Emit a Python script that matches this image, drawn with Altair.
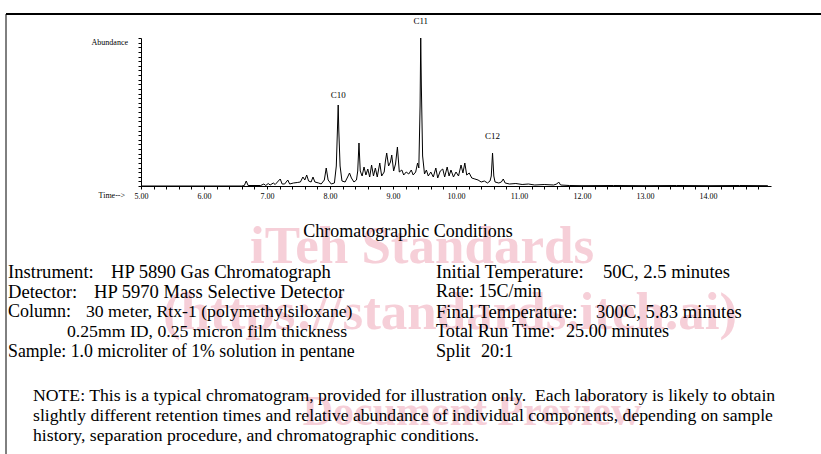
import altair as alt
import pandas as pd

# ---- chromatogram trace (retention time in minutes, abundance in arbitrary units) ----
times = [5.00, 6.60, 6.64, 6.67, 6.70, 6.90, 6.95, 6.98, 7.02, 7.05, 7.10, 7.13, 7.18, 7.21,
         7.24, 7.28, 7.33, 7.36, 7.42, 7.48, 7.53, 7.57, 7.60, 7.63, 7.66, 7.70, 7.73, 7.76,
         7.82, 7.86, 7.91, 7.94, 7.97, 8.02, 8.07, 8.10, 8.12, 8.13, 8.14, 8.16, 8.19, 8.24,
         8.28, 8.31, 8.34, 8.38, 8.42, 8.44, 8.46, 8.48, 8.51, 8.54, 8.57, 8.60, 8.63, 8.66,
         8.69, 8.72, 8.75, 8.79, 8.82, 8.86, 8.88, 8.90, 8.93, 8.96, 8.98, 9.01, 9.04, 9.07,
         9.10, 9.14, 9.17, 9.21, 9.25, 9.29, 9.32, 9.36, 9.39, 9.41, 9.43, 9.44, 9.45, 9.47,
         9.50, 9.53, 9.56, 9.60, 9.64, 9.68, 9.71, 9.75, 9.79, 9.82, 9.86, 9.89, 9.92, 9.96,
         10.00, 10.04, 10.08, 10.11, 10.14, 10.17, 10.21, 10.25, 10.30, 10.35, 10.40, 10.45,
         10.50, 10.54, 10.56, 10.58, 10.60, 10.62, 10.68, 10.72, 10.75, 10.78, 10.85, 10.95,
         11.05, 11.15, 11.25, 11.40, 11.55, 11.60, 11.63, 11.66, 11.80, 12.00, 12.50, 13.00,
         13.50, 14.00, 14.50, 14.95]
abundance = [0, 0, 0.5, 5, 0.5, 0.5, 2, 0.5, 2.5, 1, 3, 1.5, 5, 7,
             2, 2, 6, 2, 3, 3.5, 4, 9, 6, 11, 5, 4, 9, 4,
             3, 2, 6, 18, 6, 2, 3, 20, 60, 81, 55, 20, 5, 4,
             9, 13, 8, 4, 6, 15, 43, 15, 10, 19, 11, 17, 9, 21,
             10, 18, 9, 23, 10, 14, 25, 33, 20, 24, 31, 15, 22, 39,
             14, 16, 11, 14, 12, 16, 11, 14, 23, 18, 80, 148, 100, 30,
             12, 16, 10, 14, 9, 18, 8, 15, 17, 9, 19, 10, 16, 9,
             14, 10, 21, 13, 23, 11, 13, 8, 7, 6, 4, 5,
             3, 5, 10, 33, 10, 4, 3, 4, 7, 3, 2, 2.5,
             1.5, 2, 1, 1.5, 1, 2, 4, 1, 0.5, 0.3, 0.5, 0.3,
             0.5, 0.3, 0.5, 0.3]

x_ticks = [5.0, 5.2, 5.4, 5.6, 5.8, 6.0, 6.2, 6.4, 6.6, 6.8, 7.0, 7.2, 7.4, 7.6, 7.8,
           8.0, 8.2, 8.4, 8.6, 8.8, 9.0, 9.2, 9.4, 9.6, 9.8, 10.0, 10.2, 10.4, 10.6, 10.8,
           11.0, 11.2, 11.4, 11.6, 11.8, 12.0, 12.2, 12.4, 12.6, 12.8, 13.0, 13.2, 13.4,
           13.6, 13.8, 14.0, 14.2, 14.4, 14.6, 14.8]
y_ticks = [0, 4.6, 9.3, 13.9, 18.5, 23.1, 27.8, 32.4, 37, 41.6, 46.3, 50.9, 55.5, 60.1,
           64.8, 69.4, 74, 78.6, 83.3, 87.9, 92.5, 97.1, 101.8, 106.4, 111, 115.6, 120.3,
           124.9, 129.5, 134.1, 138.8, 143.4, 148]

peak_names = ["C10", "C11", "C12"]
peak_times = [8.13, 9.44, 10.58]
peak_label_height = [91, 165, 50]

title_text = "Chromatographic Conditions"
left_keys = ["Instrument:", "Detector:", "Column:", "", "Sample: 1.0 microliter of 1% solution in pentane"]
left_vals = ["HP 5890 Gas Chromatograph", "HP 5970 Mass Selective Detector",
             "30 meter, Rtx-1 (polymethylsiloxane)", "0.25mm ID, 0.25 micron film thickness", ""]
right_keys = ["Initial Temperature:", "Rate: 15C/min", "Final Temperature:", "Total Run Time:", "Split"]
right_vals = ["50C, 2.5 minutes", "", "300C, 5.83 minutes", "25.00 minutes", "20:1"]
note_lines = ["NOTE: This is a typical chromatogram, provided for illustration only.\u00a0 Each laboratory is likely to obtain",
              "slightly different retention times and relative abundance of individual components, depending on sample",
              "history, separation procedure, and chromatographic conditions."]
watermark = ["iTeh Standards", "(https://standards.iteh.ai)", "Document Preview"]

SERIF = "Liberation Serif"
FS = 18
NOTE_FS = 17.7
OX, OY = 141, 38  # plot origin inside the 821x454 page


def txt(s, px, py, size, align="left", color="black", weight="normal", style="normal"):
    return alt.Chart(pd.DataFrame({"t": [s]})).mark_text(
        font=SERIF, fontSize=size, align=align, baseline="middle", color=color,
        fontWeight=weight, fontStyle=style
    ).encode(text="t:N", x=alt.value(px - OX), y=alt.value(py - OY))


major_test = "abs(datum.value - round(datum.value)) < 0.01"
X_ENC = alt.X("time:Q", scale=alt.Scale(domain=[5, 15], nice=False, zero=False),
              axis=alt.Axis(values=x_ticks, title=None, grid=False, labelOverlap=False,
                            labelExpr=major_test + " ? format(datum.value, '.2f') : ''",
                            tickSize=3, labelFont=SERIF, labelFontSize=8, labelColor="black",
                            domainColor="black", tickColor="black", labelPadding=3,
                            labelFlush=False, labelBound=False))
Y_ENC = alt.Y("abundance:Q", scale=alt.Scale(domain=[0, 148], nice=False),
              axis=alt.Axis(values=y_ticks, labels=False, title=None, grid=False,
                            labelOverlap=False, tickSize=3, domainColor="black", tickColor="black"))

trace = pd.DataFrame({"time": times, "abundance": abundance})
line = alt.Chart(trace).mark_line(color="black", strokeWidth=1).encode(x=X_ENC, y=Y_ENC)

peaks = pd.DataFrame({"name": peak_names, "time": peak_times, "abundance": peak_label_height})
peak_text = alt.Chart(peaks).mark_text(font=SERIF, fontSize=9, color="black",
                                       baseline="middle").encode(x=X_ENC, y=Y_ENC, text="name:N")

layers = []
wm_color = "#f6cfd8"
layers.append(txt(watermark[0], 422, 247, 53, align="center", color=wm_color, weight="bold"))
layers.append(txt(watermark[1], 450, 313, 53, align="center", color=wm_color, weight="bold"))
layers.append(txt(watermark[2], 472, 412, 42, align="center", color=wm_color, weight="bold"))

layers.append(line)
layers.append(peak_text)

layers.append(txt("Abundance", 128, 43, 8, align="right"))
layers.append(txt("Time-->", 125, 196, 8, align="right"))

layers.append(txt(title_text, 408, 232, FS, align="center"))
ys = [272, 292, 312, 332, 352]
left_size = [18.6, 18.6, 18, 17.7, 17.8]
left_val_x = [111, 94, 86, 67, 0]
left_val_size = [18.6, 18.6, 17.7, 17.7, 17.8]
right_size = [18.6, 18, 18.6, 18.2, 18.2]
right_val_x = [603, 0, 596, 566, 481]
for i in range(5):
    if left_keys[i]:
        layers.append(txt(left_keys[i], 8, ys[i], left_size[i]))
    if left_vals[i]:
        layers.append(txt(left_vals[i], left_val_x[i], ys[i], left_val_size[i]))
    layers.append(txt(right_keys[i], 436, ys[i], right_size[i]))
    if right_vals[i]:
        layers.append(txt(right_vals[i], right_val_x[i], ys[i], right_size[i]))
for i, s in enumerate(note_lines):
    layers.append(txt(s, 33, 396 + 20 * i, NOTE_FS))

# page border lines
one = pd.DataFrame({"v": [0]})
layers.append(alt.Chart(one).mark_rule(color="black", strokeWidth=2).encode(
    x=alt.value(6 - OX), x2=alt.value(821 - OX), y=alt.value(14 - OY)))
layers.append(alt.Chart(one).mark_rule(color="black", strokeWidth=1).encode(
    x=alt.value(6 - OX), y=alt.value(14 - OY), y2=alt.value(454 - OY)))

chart = alt.layer(*layers).properties(
    width=630, height=148,
    padding={"left": OX, "top": OY, "right": 821 - OX - 630, "bottom": 454 - OY - 148},
    autosize=alt.AutoSizeParams(type="none"),
    background="white",
).configure_view(stroke=None)

chart.save("out.html", embed_options={"renderer": "svg", "actions": False})
